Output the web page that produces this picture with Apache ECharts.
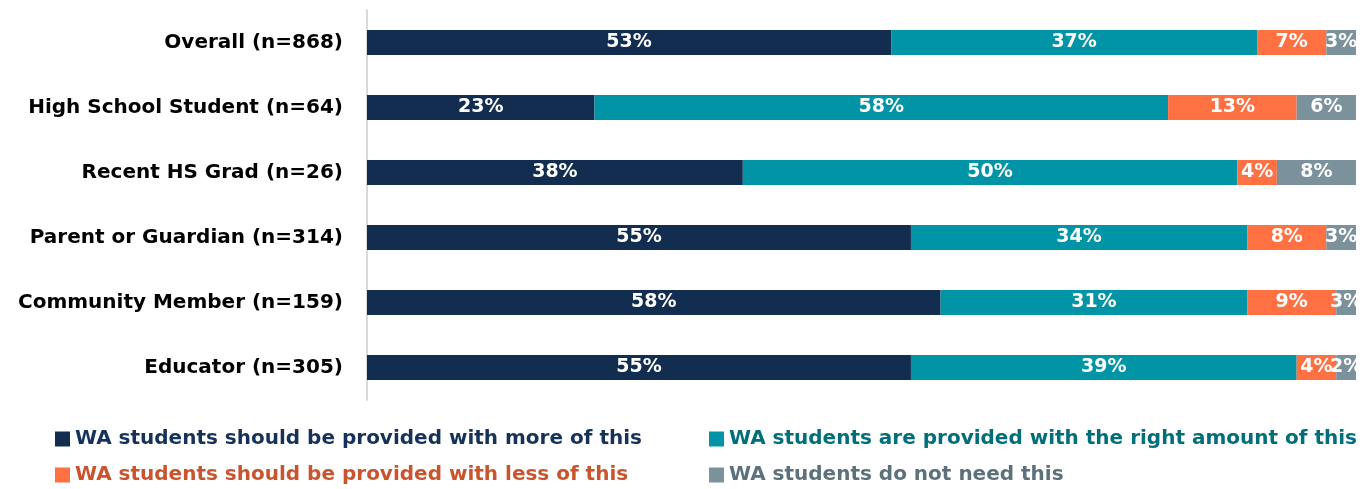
<!DOCTYPE html>
<html>
<head>
<meta charset="utf-8">
<script src="https://cdn.jsdelivr.net/npm/echarts@6/dist/echarts.min.js"></script>
<style>
  html, body { margin: 0; padding: 0; background: #fff; }
  #chart { width: 1366px; height: 489px; }
</style>
</head>
<body>
<div id="chart"></div>
<script>
// Respondent groups, top to bottom
const categories = [
  'Overall (n=868)',
  'High School Student (n=64)',
  'Recent HS Grad (n=26)',
  'Parent or Guardian (n=314)',
  'Community Member (n=159)',
  'Educator (n=305)'
];

const seriesNames = [
  'WA students should be provided with more of this',
  'WA students are provided with the right amount of this',
  'WA students should be provided with less of this',
  'WA students do not need this'
];

// Percent of respondents per answer, same order as categories
const moreOfThis   = [53, 23, 38, 55, 58, 55];
const rightAmount  = [37, 58, 50, 34, 31, 39];
const lessOfThis   = [7, 13, 4, 8, 9, 4];
const doNotNeed    = [3, 6, 8, 3, 3, 2];

const barColors  = ['#132d50', '#0094a6', '#ff7043', '#7b919c'];
const textColors = ['#17325a', '#006f7a', '#c9552f', '#5d717b'];

const FONT = '"DejaVu Sans", sans-serif';

const values = [moreOfThis, rightAmount, lessOfThis, doNotNeed];

const series = values.map((arr, i) => ({
  name: seriesNames[i],
  type: 'bar',
  stack: 'total',
  barWidth: 25,
  data: arr,
  itemStyle: { color: barColors[i] },
  label: {
    show: true,
    position: 'inside',
    formatter: '{c}%',
    color: '#fff',
    fontFamily: FONT,
    fontWeight: 'bold',
    fontSize: 19
  },
  emphasis: { disabled: true }
}));

const legendItem = i => ({
  name: seriesNames[i],
  textStyle: { color: textColors[i] }
});

// Two stacked legend columns underneath the bars
const legendBase = {
  orient: 'vertical',
  top: 429,
  height: 60,
  padding: 0,
  itemGap: 16,
  itemWidth: 15,
  itemHeight: 15,
  icon: 'rect',
  selectedMode: false,
  textStyle: { fontFamily: FONT, fontWeight: 'bold', fontSize: 20 }
};

const chart = echarts.init(document.getElementById('chart'), null, { renderer: 'canvas' });
chart.setOption({
  animation: false,
  grid: { left: 367, right: 10, top: 10, height: 390, containLabel: false },
  xAxis: {
    type: 'value',
    min: 0,
    max: 100,
    show: false
  },
  yAxis: {
    type: 'category',
    inverse: true,
    data: categories,
    axisLine: { show: true, lineStyle: { color: '#d9d9d9', width: 2 } },
    axisTick: { show: false },
    axisLabel: {
      margin: 24,
      color: '#000',
      fontFamily: FONT,
      fontWeight: 'bold',
      fontSize: 20
    }
  },
  legend: [
    Object.assign({}, legendBase, { left: 55, data: [legendItem(0), legendItem(2)] }),
    Object.assign({}, legendBase, { left: 709, data: [legendItem(1), legendItem(3)] })
  ],
  series: series
});
</script>
</body>
</html>
